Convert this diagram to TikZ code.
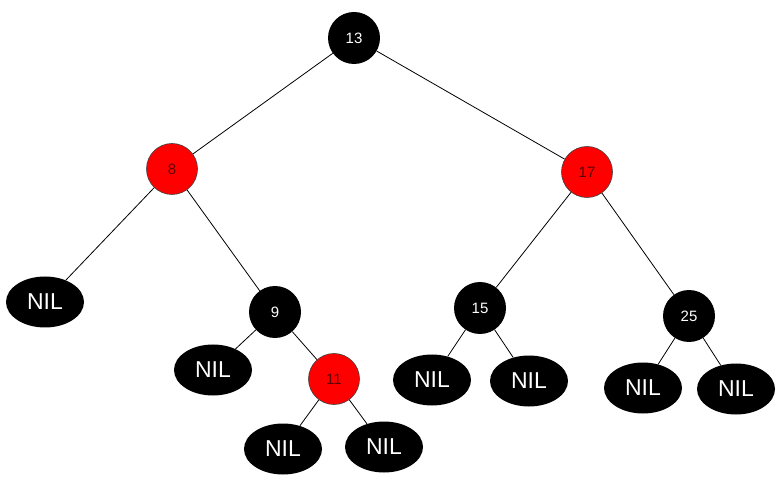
\documentclass[tikz,border=0pt]{standalone}
\usepackage{fontspec}
\setmainfont{Liberation Sans}
\usepackage{tikz}
\usetikzlibrary{shapes.geometric}
\definecolor{rbred}{RGB}{255,0,0}
\definecolor{rbtext}{RGB}{95,0,0}

\begin{document}
\begin{tikzpicture}[x=1pt,y=-1pt,
  blk/.style={circle,fill=black,minimum size=52pt,inner sep=0pt,text=white,font=\fontsize{15}{17}\selectfont},
  redn/.style={circle,fill=rbred,draw=black!75,line width=0.6pt,minimum size=51pt,inner sep=0pt,text=rbtext,font=\fontsize{15}{17}\selectfont},
  nil/.style={ellipse,fill=black,minimum width=78pt,minimum height=51pt,inner sep=0pt,text=white,font=\fontsize{23}{25}\selectfont}]
  \useasboundingbox (0,0) rectangle (782,486);
  \node[blk]  (n13) at (354,38)  {13};
  \node[redn] (n8)  at (172,169) {8};
  \node[redn] (n17) at (587,172) {17};
  \node[blk]  (n9)  at (275,312) {9};
  \node[redn] (n11) at (334,379) {11};
  \node[blk]  (n15) at (480,308) {15};
  \node[blk]  (n25) at (689,316) {25};
  \foreach \n/\x/\y in {a/45/302,b/213/370,c/283/449,d/384/447,e/432/380,f/529/381,g/643/388,h/736/389} {
    \node[nil] (nil\n) at (\x,\y) {NIL};
  }
  \foreach \p/\c in {n13/n8,n13/n17,n8/nila,n8/n9,n9/nilb,n9/n11,n11/nilc,n11/nild,n17/n15,n17/n25,n15/nile,n15/nilf,n25/nilg,n25/nilh}
    \draw[line width=0.8pt] (\p) -- (\c);
\end{tikzpicture}
\end{document}
